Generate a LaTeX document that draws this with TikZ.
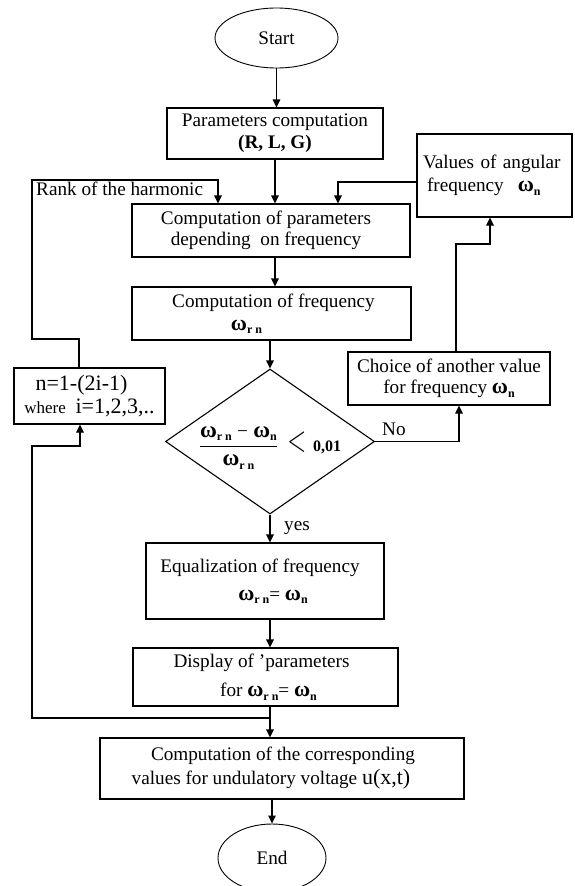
\documentclass[tikz,border=0pt]{standalone}
\usepackage{fontspec}
\setmainfont{Liberation Serif}
\usepackage{amsmath}
\usepackage{graphicx}
\usetikzlibrary{arrows.meta,shapes.geometric}
\newcommand\om[2][22]{{\fontsize{#1}{#1}\selectfont\bfseries ω}\raisebox{-0.4ex}{\fontsize{12}{12}\selectfont\bfseries #2}}
\newcommand\shx[2]{\mbox{\hspace{#1}#2\hspace{-#1}}}
\begin{document}
\begin{tikzpicture}[x=1pt,y=-1pt,
  every node/.style={font=\fontsize{19.2}{22}\selectfont, inner sep=0pt},
  box/.style={draw, rectangle, line width=1.1pt, align=center},
  oval/.style={draw, ellipse, line width=0.9pt},
  arr/.style={line width=1.1pt, -{Triangle[length=8pt,width=7.5pt]}},
  ln/.style={line width=1.1pt}]
\useasboundingbox (0,0) rectangle (575,886);
\fill[white] (0,0) rectangle (575,886);
\clip (0,0) rectangle (575,886);

% nodes
\node[oval, minimum width=123pt, minimum height=60pt] (start) at (276.5,38) {Start};
\node[box, minimum width=216pt, minimum height=51pt] (params) at (275,133.5)
  {Parameters computation\\\textbf{(R, L, G)}};
\node[box, minimum width=278pt, minimum height=53pt, font=\fontsize{19.2}{21}\selectfont] (comp) at (271,230.5)
  {\shx{-5pt}{Computation of parameters}\\\shx{-5pt}{depending\ \ on frequency}};
\node[box, minimum width=279pt, minimum height=53pt, font=\fontsize{19.2}{23}\selectfont] (freq) at (271.5,313.5)
  {\shx{2pt}{Computation of frequency}\\\shx{-25pt}{\om{r n}}};
\node[draw, diamond, line width=1.1pt, minimum width=209pt, minimum height=145pt, aspect=1.44] (dia) at (270,441.5)
  {\makebox[0pt]{\smash{\raisebox{-10pt}{$\genfrac{}{}{1.3pt}{0}{\mbox{\om[23]{r n}\;−\;\om[23]{n}}}{\mbox{\om[23]{r n}}}\mkern8mu\scalebox{1.2}[1.8]{$<$}\mkern6mu\mbox{\fontsize{16}{16}\selectfont\bfseries 0,01}$}}}};
\node[box, minimum width=151pt, minimum height=56pt, font=\fontsize{19.2}{23}\selectfont] (nbox) at (89.5,396)
  {\shx{-8pt}{\fontsize{22}{22}\selectfont n=1-(2i-1)}\\{\fontsize{17}{17}\selectfont where}\ \ {\fontsize{22}{22}\selectfont i=1,2,3,..}};
\node[box, minimum width=202pt, minimum height=53pt, font=\fontsize{19.2}{21}\selectfont] (choice) at (449,378.5)
  {Choice of another value\\for frequency \om{n}};
\node[box, minimum width=155pt, minimum height=83pt, text width=143pt, inner xsep=6pt, align=left, font=\fontsize{19.2}{23}\selectfont] (values) at (494.5,175.5)
  {Values of angular\\\hspace*{4pt}frequency\hspace{14pt}\om{n}};
\node[box, minimum width=238pt, minimum height=76pt, font=\fontsize{19.2}{28}\selectfont] (eq) at (265,581)
  {\shx{-5pt}{Equalization of frequency}\\\shx{8pt}{\om{r n}= \om{n}}};
\node[box, minimum width=265pt, minimum height=58pt, font=\fontsize{19.2}{29}\selectfont] (disp) at (265.5,677)
  {\shx{-4pt}{Display of 'parameters}\\\shx{3pt}{for \om{r n}= \om{n}}};
\node[box, minimum width=364pt, minimum height=61pt, font=\fontsize{19.2}{24}\selectfont] (cv) at (282,768.5)
  {\shx{1pt}{Computation of the corresponding}\\\shx{-11pt}{values for undulatory voltage {\fontsize{22}{22}\selectfont u(x,t)}}};
\node[oval, minimum width=108pt, minimum height=68pt] (endn) at (272,858) {End};

% labels
\node[anchor=base west] (rank) at (36,195) {Rank of the harmonic};
\node[anchor=base west] (nolab) at (382,435) {No};
\node[anchor=base west] (yeslab) at (284,530) {yes};

% coordinates
\coordinate (noX) at (459,443);
\coordinate (cvA) at (456,244);
\coordinate (cvB) at (490,244);
\coordinate (vcA) at (338,182);
\coordinate (rkA) at (79,339);
\coordinate (rkB) at (32,180);
\coordinate (rkC) at (218,180);
\coordinate (fbJ) at (270,718);
\coordinate (fbK) at (32,446);
\coordinate (fbM) at (80,446);

% connectors
\draw[arr] (start.south) -- (start.south |- params.north);
\draw[arr] (params.south) -- (params.south |- comp.north);
\draw[arr] (params.south |- comp.south) -- (params.south |- freq.north);
\draw[arr] (dia.north |- freq.south) -- (dia.north);
\draw[arr] (dia.south) -- (dia.south |- eq.north);
\draw[arr] (dia.south |- eq.south) -- (dia.south |- disp.north);
\draw[arr] (dia.south |- disp.south) -- (dia.south |- cv.north);
\draw[arr] (endn.north |- cv.south) -- (endn.north);
\draw[arr] (dia.east) -| (noX |- choice.south);
\draw[arr] (cvA |- choice.north) -- (cvA) -- (cvB) -- (cvB |- values.south);
\draw[arr] (vcA -| values.west) -- (vcA) -- (vcA |- comp.north);
\draw[arr] (rkA |- nbox.north) -- (rkA) -| (rkB) -- (rkC) -- (rkC |- comp.north);
\draw[arr] (fbJ) -| (fbK) -- (fbM) -- (fbM |- nbox.south);
\end{tikzpicture}
\end{document}
